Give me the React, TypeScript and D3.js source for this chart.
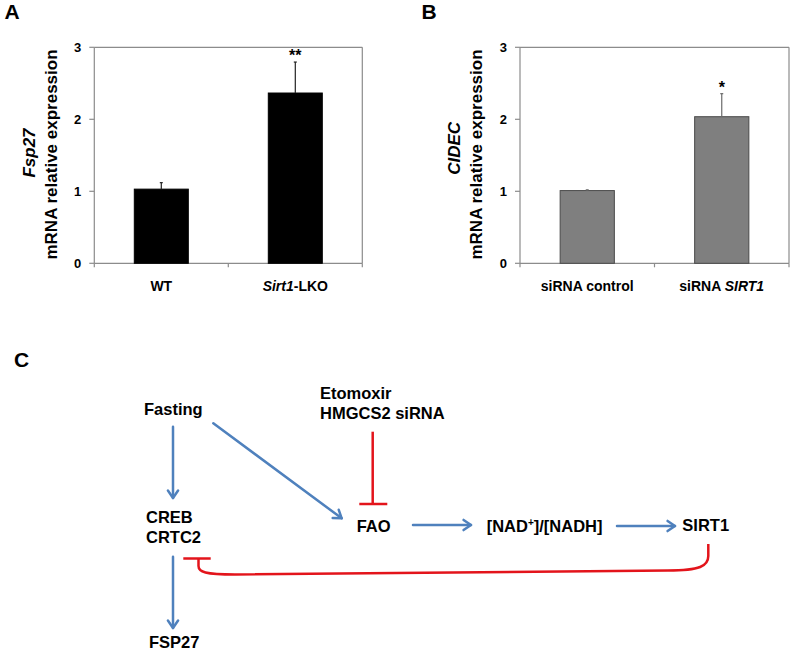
import React from "react";
import * as d3 from "d3";

const FONT = "'Liberation Sans', Arial, sans-serif";

// Panel A data
const catsA = ["WT", "Sirt1-LKO"];
const meansA = [1.03, 2.365];
const errsA = [0.09, 0.43];
const starsA = ["", "**"];

// Panel B data
const catsB = ["siRNA control", "siRNA SIRT1"];
const meansB = [1.01, 2.036];
const errsB = [0.01, 0.32];
const starsB = ["", "*"];

const yTicks = [0, 1, 2, 3];

const BLUE = "#4f81bd";
const RED = "#e3141b";

function CatLabel({ label, x, y }: { label: string; x: number; y: number }) {
  if (label === "Sirt1-LKO") {
    return (
      <text x={x} y={y} textAnchor="middle" fontFamily={FONT} fontWeight="bold" fontSize={14}>
        <tspan fontStyle="italic">Sirt1</tspan>-LKO
      </text>
    );
  }
  if (label === "siRNA SIRT1") {
    return (
      <text x={x} y={y} textAnchor="middle" fontFamily={FONT} fontWeight="bold" fontSize={14}>
        siRNA <tspan fontStyle="italic">SIRT1</tspan>
      </text>
    );
  }
  return (
    <text x={x} y={y} textAnchor="middle" fontFamily={FONT} fontWeight="bold" fontSize={14}>
      {label}
    </text>
  );
}

function BarPanel({
  cats, means, errs, stars, x0, x1, fill, stroke, errColor, gene, geneX, geneY, titleX, titleY,
}: any) {
  const y = d3.scaleLinear().domain([0, 3]).range([263.3, 47.3]);
  const x = d3.scaleBand<string>().domain(cats).range([x0, x1]).paddingInner(0.597).paddingOuter(0.2985);
  const axisColor = "#8c8c8c";
  const step = x.step();
  return (
    <g>
      {/* frame */}
      <line x1={x0} x2={x0} y1={y(3)} y2={y(0)} stroke={axisColor} strokeWidth={1.2} />
      <line x1={x0} x2={x1} y1={y(3)} y2={y(3)} stroke={axisColor} strokeWidth={1.2} />
      <line x1={x1} x2={x1} y1={y(3)} y2={y(0)} stroke={axisColor} strokeWidth={1.2} />
      <line x1={x0} x2={x1} y1={y(0)} y2={y(0)} stroke={axisColor} strokeWidth={1.2} />
      {yTicks.map((t) => (
        <g key={t}>
          <line x1={x0 - 5} x2={x0} y1={y(t)} y2={y(t)} stroke={axisColor} strokeWidth={1.2} />
          <text x={x0 - 13} y={y(t) + 4.5} textAnchor="end" fontFamily={FONT} fontWeight="bold" fontSize={13}>
            {t}
          </text>
        </g>
      ))}
      {[0, 1, 2].map((i) => (
        <line key={i} x1={x0 + i * step} x2={x0 + i * step} y1={y(0)} y2={y(0) + 4} stroke={axisColor} strokeWidth={1.2} />
      ))}
      {cats.map((c: string, i: number) => {
        const bx = x(c)!;
        const cx = bx + x.bandwidth() / 2;
        const top = y(means[i] + errs[i]);
        return (
          <g key={c}>
            <rect x={bx} y={y(means[i])} width={x.bandwidth()} height={y(0) - y(means[i])} fill={fill} stroke={stroke} strokeWidth={1} />
            <line x1={cx} x2={cx} y1={y(means[i])} y2={top} stroke={errColor} strokeWidth={1.2} />
            <line x1={cx - 1.5} x2={cx + 1.5} y1={top} y2={top} stroke={errColor} strokeWidth={1.2} />
            {stars[i] && (
              <text x={cx} y={top - 1} textAnchor="middle" fontFamily={FONT} fontWeight="bold" fontSize={16}>
                {stars[i]}
              </text>
            )}
            <CatLabel label={c} x={cx} y={290.7} />
          </g>
        );
      })}
      <text transform={`translate(${geneX},${geneY}) rotate(-90)`} textAnchor="middle" fontFamily={FONT} fontWeight="bold" fontStyle="italic" fontSize={17}>
        {gene}
      </text>
      <text transform={`translate(${titleX},${titleY}) rotate(-90)`} textAnchor="middle" fontFamily={FONT} fontWeight="bold" fontSize={17}>
        mRNA relative expression
      </text>
    </g>
  );
}

function Arrow({ x1, y1, x2, y2 }: { x1: number; y1: number; x2: number; y2: number }) {
  const a = Math.atan2(y2 - y1, x2 - x1);
  const L = 9;
  const s = 0.6;
  const p1 = [x2 - L * Math.cos(a - s), y2 - L * Math.sin(a - s)];
  const p2 = [x2 - L * Math.cos(a + s), y2 - L * Math.sin(a + s)];
  return (
    <g stroke={BLUE} strokeWidth={2.5} fill="none" strokeLinecap="round" strokeLinejoin="round">
      <line x1={x1} y1={y1} x2={x2} y2={y2} />
      <path d={`M${p1[0]},${p1[1]} L${x2},${y2} L${p2[0]},${p2[1]}`} />
    </g>
  );
}

const nodes = [
  { t: "Fasting", x: 144, y: 415 },
  { t: "Etomoxir", x: 320, y: 399.3 },
  { t: "HMGCS2 siRNA", x: 320, y: 419.3 },
  { t: "CREB", x: 146, y: 522.7 },
  { t: "CRTC2", x: 146, y: 543.3 },
  { t: "FSP27", x: 149, y: 648 },
  { t: "FAO", x: 356.7, y: 531.7 },
  { t: "SIRT1", x: 682.3, y: 531 },
];

export default function App() {
  return (
    <svg width={791} height={650} style={{ position: "absolute", left: 0, top: 0, background: "#fff" }}>
      <rect width={791} height={650} fill="#fff" />
      <text x={4.5} y={18.5} fontFamily={FONT} fontWeight="bold" fontSize={21}>A</text>
      <text x={421.5} y={18.5} fontFamily={FONT} fontWeight="bold" fontSize={21}>B</text>
      <text x={14} y={366.7} fontFamily={FONT} fontWeight="bold" fontSize={21}>C</text>

      <BarPanel cats={catsA} means={meansA} errs={errsA} stars={starsA} x0={94.3} x1={362.3}
        fill="#000" stroke="#000" errColor="#222" gene="Fsp27" geneX={35} geneY={153} titleX={57.3} titleY={154.5} />
      <BarPanel cats={catsB} means={meansB} errs={errsB} stars={starsB} x0={520} x1={789}
        fill="#7f7f7f" stroke="#4a4a4a" errColor="#6a6a6a" gene="CIDEC" geneX={460} geneY={148.3} titleX={481.7} titleY={154.5} />

      {/* Panel C */}
      {nodes.map((n) => (
        <text key={n.t} x={n.x} y={n.y} fontFamily={FONT} fontWeight="bold" fontSize={16.5}>{n.t}</text>
      ))}
      <text x={486.7} y={532} fontFamily={FONT} fontWeight="bold" fontSize={16.5}>
        [NAD<tspan fontSize={10} dy={-6}>+</tspan><tspan dy={6}>]/[NADH]</tspan>
      </text>

      <Arrow x1={173} y1={426.7} x2={173} y2={498} />
      <Arrow x1={173} y1={556.7} x2={173} y2={628} />
      <Arrow x1={213.3} y1={423.3} x2={341.7} y2={518.3} />
      <Arrow x1={413} y1={525} x2={471} y2={525} />
      <Arrow x1={617} y1={526} x2={675} y2={526} />

      <g stroke={RED} strokeWidth={2.5} fill="none">
        <line x1={372.7} y1={431.7} x2={372.7} y2={504} />
        <line x1={359.3} y1={504} x2={387.3} y2={504} />
        <path d="M708.3,544 L708.3,556 C708.3,566 700,570.5 668,570.5 L235,574.5 C205,574.5 198.5,572 198.5,566 L198.5,558.5" />
        <line x1={183.3} y1={558.5} x2={210.7} y2={558.5} />
      </g>
    </svg>
  );
}
